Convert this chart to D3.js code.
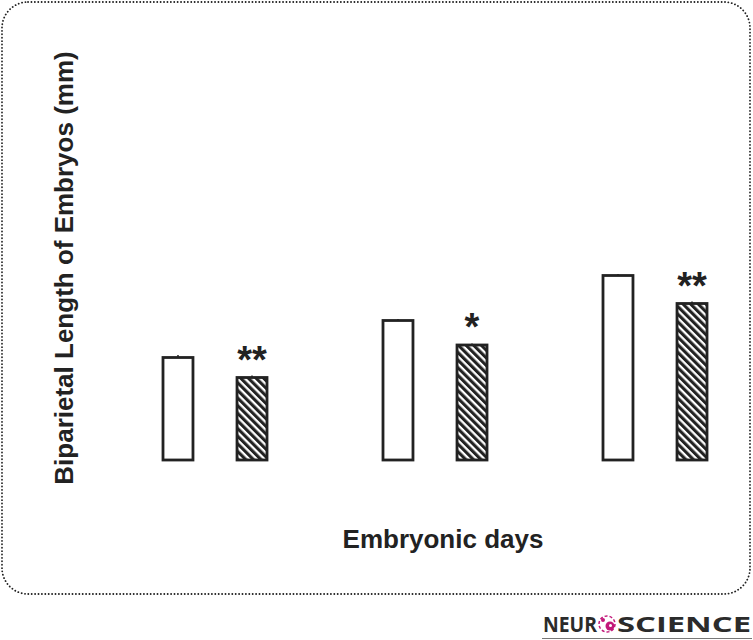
<!DOCTYPE html>
<html><head><meta charset="utf-8">
<script src="https://cdn.jsdelivr.net/npm/d3@7"></script>
<style>body{margin:0;background:#fff}svg{display:block}</style>
</head><body>
<svg id="c" width="753" height="640"></svg>
<script>
const days = ["E1", "E2", "E3"];
const groups = ["control", "treated"];
const controlValues = [2.05, 2.79, 3.69];
const treatedValues = [1.65, 2.30, 3.13];
const controlErr = [0.03, 0.01, 0.01];
const treatedErr = [0.02, 0.01, 0.02];
const signif = ["**", "*", "**"];

const svg = d3.select("#c");
const defs = svg.append("defs");
const pat = defs.append("pattern").attr("id","hatch").attr("patternUnits","userSpaceOnUse")
  .attr("width",5.4).attr("height",5.4).attr("patternTransform","rotate(-45)");
pat.append("rect").attr("width",5.4).attr("height",5.4).attr("fill","#fff");
pat.append("rect").attr("width",3.1).attr("height",5.4).attr("fill","#222");

// frame
svg.append("rect").attr("x",2).attr("y",2).attr("width",748).attr("height",592)
  .attr("rx",26).attr("ry",26).attr("fill","none").attr("stroke","#222")
  .attr("stroke-width",1.8).attr("stroke-dasharray","0.1 3.3").attr("stroke-linecap","round");

const x0 = d3.scaleBand().domain(days).range([143, 803]).paddingInner(0).paddingOuter(0);
const x1 = d3.scaleBand().domain(groups).range([20, 124]).paddingInner(0.595).paddingOuter(0);
const y = d3.scaleLinear().domain([0, 4]).range([460, 260]);

const data = days.map((d,i)=>({day:d, vals:[
  {g:"control", v:controlValues[i], e:controlErr[i]},
  {g:"treated", v:treatedValues[i], e:treatedErr[i]}], s:signif[i]}));

const gg = svg.selectAll("g.grp").data(data).join("g").attr("class","grp")
  .attr("transform", d=>`translate(${x0(d.day)},0)`);

gg.selectAll("line.err").data(d=>d.vals).join("line").attr("class","err")
  .attr("x1", d=>x1(d.g)+x1.bandwidth()/2).attr("x2", d=>x1(d.g)+x1.bandwidth()/2)
  .attr("y1", d=>y(d.v)).attr("y2", d=>y(d.v+d.e)-1).attr("stroke","#222").attr("stroke-width",1.5);

gg.selectAll("rect.bar").data(d=>d.vals).join("rect").attr("class","bar")
  .attr("x", d=>x1(d.g)).attr("width", x1.bandwidth())
  .attr("y", d=>y(d.v)).attr("height", d=>y(0)-y(d.v))
  .attr("fill", d=>d.g==="control" ? "#fff" : "url(#hatch)")
  .attr("stroke","#222").attr("stroke-width",2.8);

gg.append("text").attr("x", x1("treated")+x1.bandwidth()/2)
  .attr("y", d=>y(d.vals[1].v)-5)
  .attr("text-anchor","middle").attr("font-family","Liberation Sans, Arial, sans-serif")
  .attr("font-weight","bold").attr("font-size",38).attr("fill","#222").text(d=>d.s);

svg.append("text").attr("transform","translate(73,268) rotate(-90)")
  .attr("text-anchor","middle").attr("font-family","Liberation Sans, Arial, sans-serif")
  .attr("font-weight","bold").attr("font-size",26).attr("fill","#222")
  .text("Biparietal Length of Embryos (mm)");

svg.append("text").attr("x",443).attr("y",548)
  .attr("text-anchor","middle").attr("font-family","Liberation Sans, Arial, sans-serif")
  .attr("font-weight","bold").attr("font-size",26).attr("fill","#222")
  .text("Embryonic days");

// logo
const lg = svg.append("g");
lg.append("text").attr("x",543).attr("y",632).attr("font-family","Open Sans, DejaVu Sans, sans-serif")
  .attr("font-weight","bold").attr("font-size",20.5).attr("fill","#2b2b2b")
  .attr("textLength",54).attr("lengthAdjust","spacingAndGlyphs").text("NEUR");
const ic = lg.append("g").attr("transform","translate(607,624)");
ic.append("circle").attr("r",8).attr("fill","none").attr("stroke","#c2187a").attr("stroke-width",1.5).attr("stroke-dasharray","3 2");
ic.append("circle").attr("cx",3).attr("cy",2).attr("r",4.5).attr("fill","#c2187a");
ic.append("circle").attr("cx",-4).attr("cy",-4).attr("r",2).attr("fill","#c2187a");
ic.append("circle").attr("cx",3.5).attr("cy",1.5).attr("r",1.5).attr("fill","#fff");
lg.append("text").attr("x",617).attr("y",632).attr("font-family","Open Sans, DejaVu Sans, sans-serif")
  .attr("font-weight","bold").attr("font-size",20.5).attr("fill","#2b2b2b")
  .attr("textLength",134).attr("lengthAdjust","spacingAndGlyphs").text("SCIENCE");
lg.append("line").attr("x1",542).attr("x2",752).attr("y1",638.5).attr("y2",638.5).attr("stroke","#777").attr("stroke-width",1.2);
</script>
</body></html>
